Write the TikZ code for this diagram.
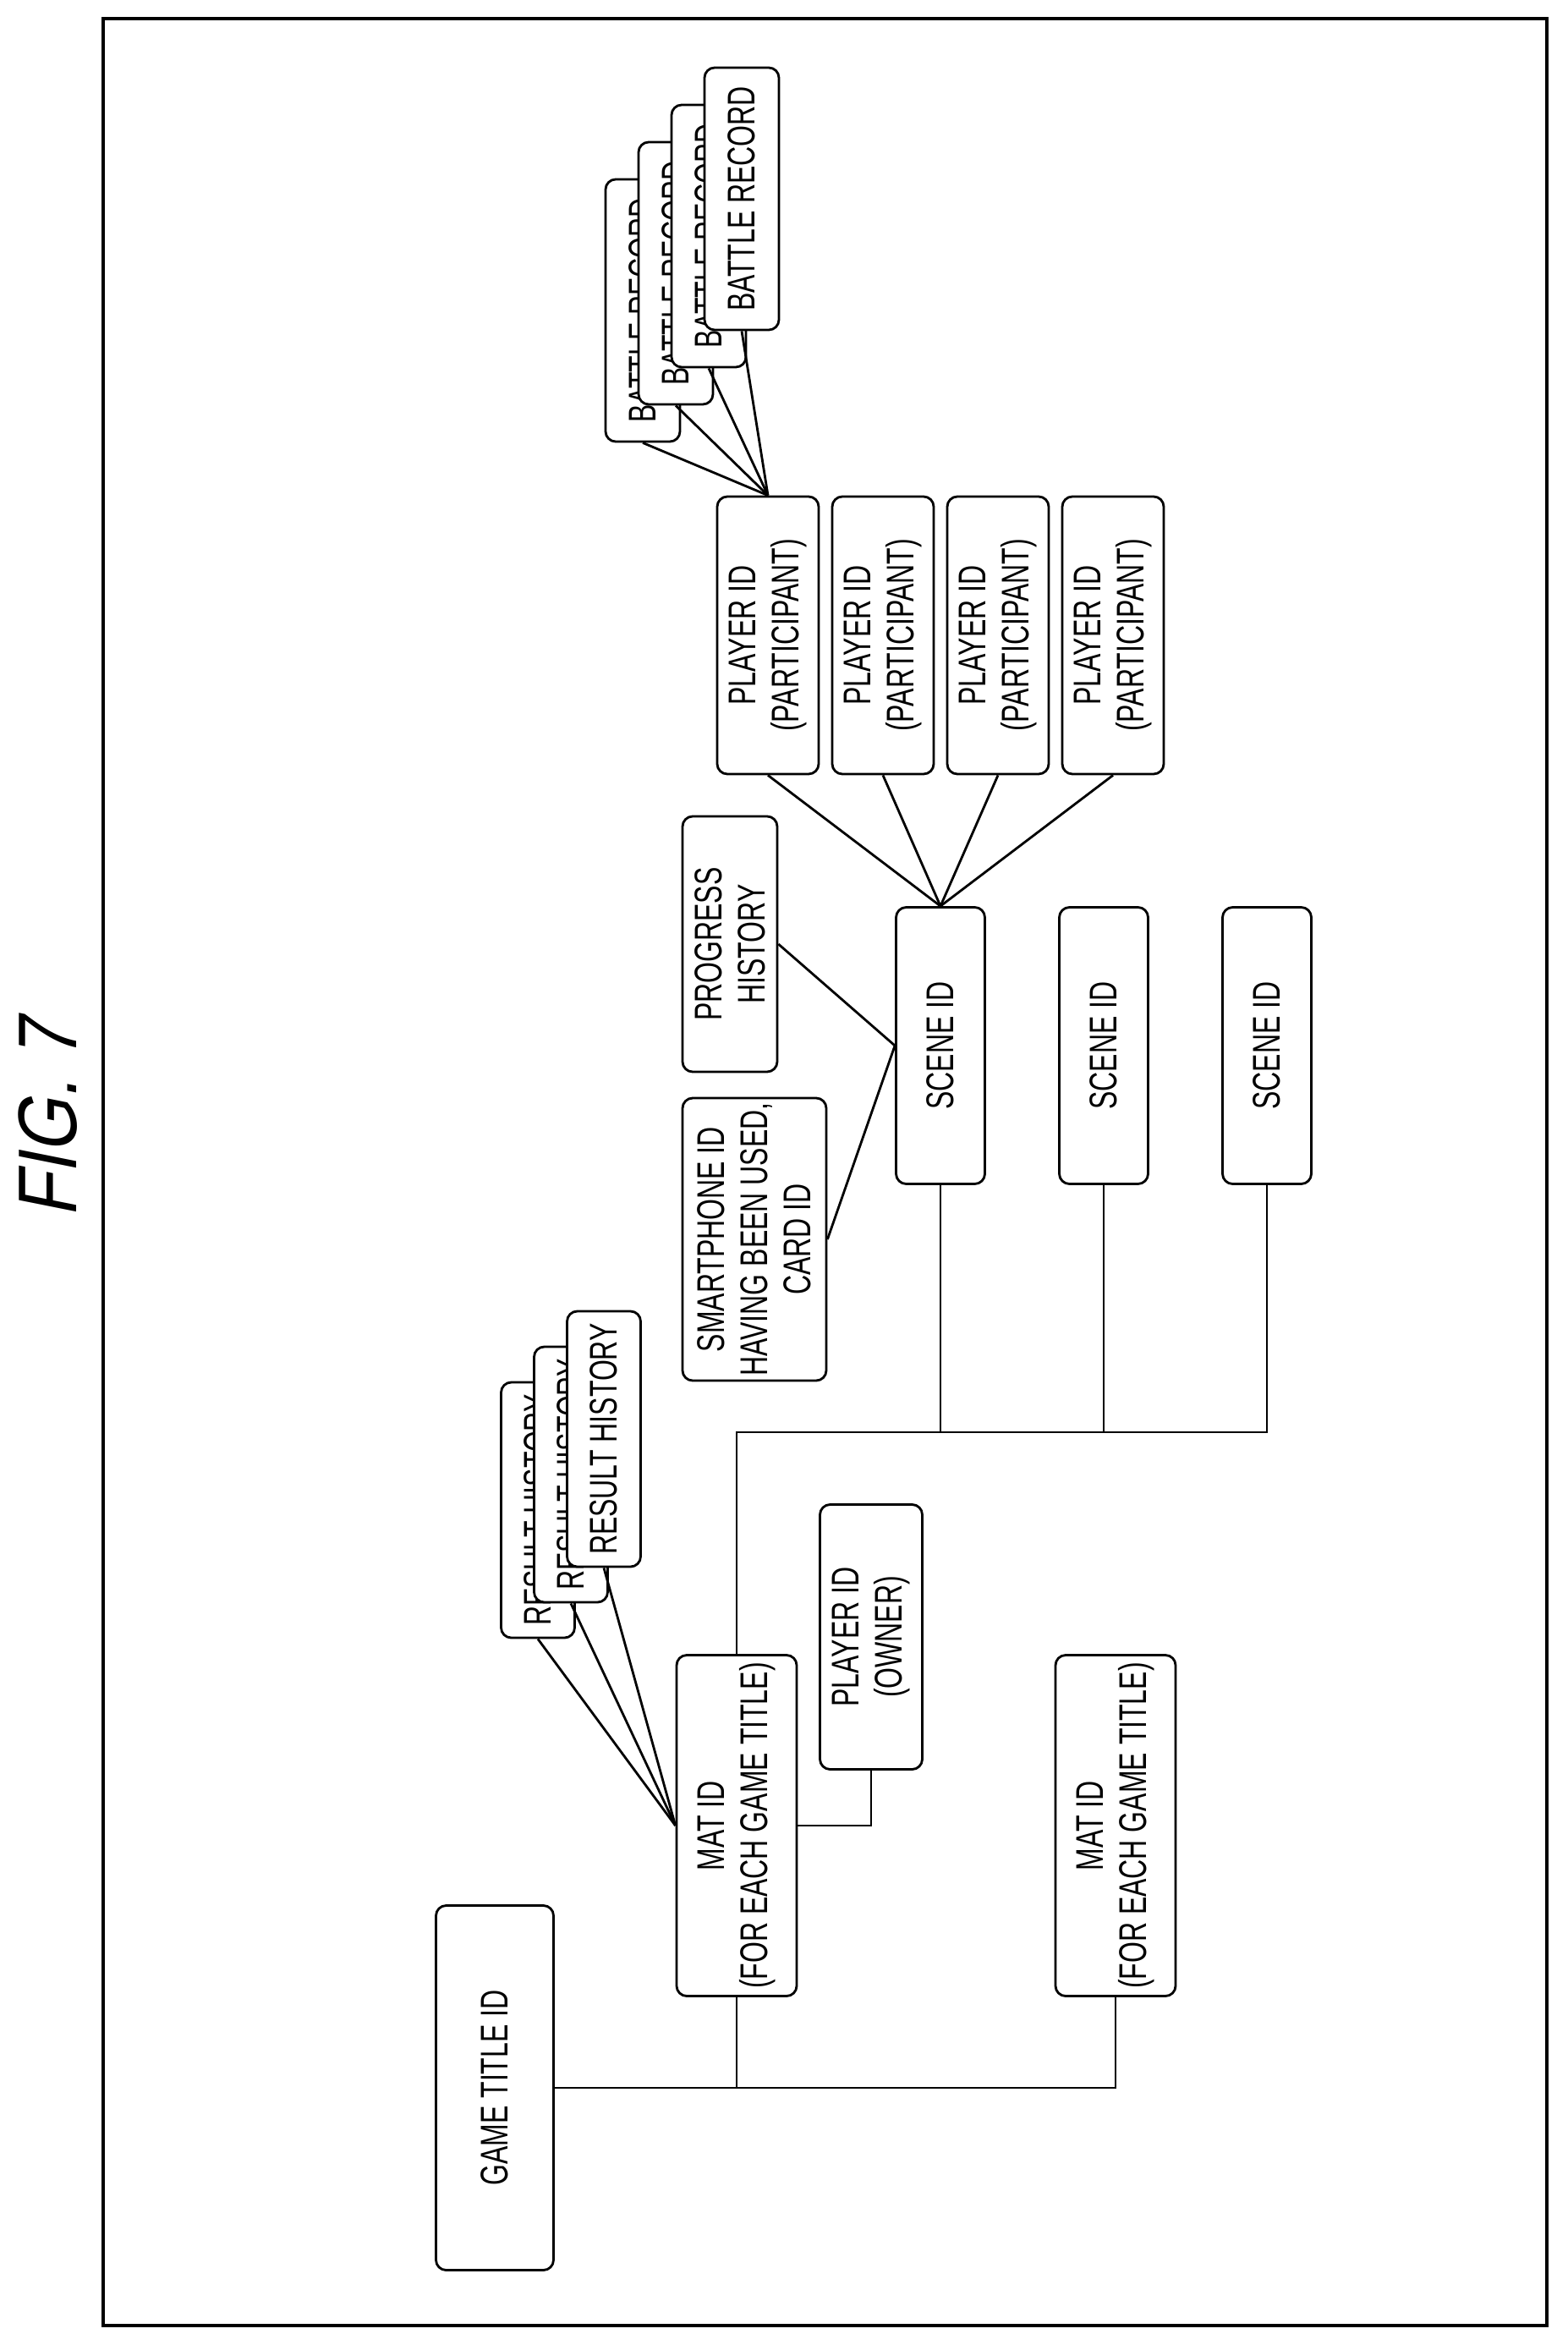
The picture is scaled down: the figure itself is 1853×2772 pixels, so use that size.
\documentclass[tikz,border=0pt]{standalone}
\usepackage{fontspec}
\newfontfamily\narrowfont[FakeStretch=0.7]{Liberation Sans}
\newfontfamily\figfont[FakeSlant=0.2,FakeStretch=0.85]{Liberation Sans}
\usetikzlibrary{calc}

\tikzset{
  idbox/.style={draw, line width=0.8pt, rounded corners=1.2mm, rotate=90, fill=white,
    align=center, inner sep=0pt, font=\narrowfont\fontsize{13}{14.5}\selectfont},
  link/.style={line width=0.8pt}
}

\begin{document}
\begin{tikzpicture}[x=0.1mm, y=-0.1mm]
  \useasboundingbox (0,0) rectangle (1853,2772);
  \draw[line width=0.9pt] (122,22) rectangle (1829,2749);
  \node[rotate=90, font=\figfont\fontsize{28}{30}\selectfont] (fig) at (57,1323) {FIG. 7};

  % game title and mats
  \node[idbox, minimum width=43.1mm, minimum height=13.9mm] (game) at (585,2468) {GAME TITLE ID};
  \node[idbox, minimum width=40.3mm, minimum height=14.2mm] (mat1) at (871,2158) {MAT ID\\(FOR EACH GAME TITLE)};
  \node[idbox, minimum width=40.3mm, minimum height=14.2mm] (mat2) at (1319,2158) {MAT ID\\(FOR EACH GAME TITLE)};
  \node[idbox, minimum width=31.3mm, minimum height=12.1mm] (owner) at (1030,1935) {PLAYER ID\\(OWNER)};

  % result history stack
  \foreach \i/\x/\y in {3/636/1785, 2/675/1743, 1/714/1701}{
    \node[idbox, minimum width=30.2mm, minimum height=8.7mm] (res\i) at (\x,\y) {RESULT HISTORY};}

  % scenes
  \foreach \i/\x in {1/1112, 2/1305, 3/1498}{
    \node[idbox, minimum width=32.7mm, minimum height=10.5mm] (scene\i) at (\x,1236) {SCENE ID};}
  \node[idbox, minimum width=30.2mm, minimum height=11.2mm] (progress) at (863,1116) {PROGRESS\\HISTORY};
  \node[idbox, minimum width=33.4mm, minimum height=17mm] (phone) at (892,1465) {SMARTPHONE ID\\HAVING BEEN USED,\\CARD ID};

  % players
  \foreach \i/\x in {1/908, 2/1044, 3/1180, 4/1316}{
    \node[idbox, minimum width=32.8mm, minimum height=12mm] (player\i) at (\x,751) {PLAYER ID\\(PARTICIPANT)};}

  % battle record stack
  \foreach \i/\x/\y in {4/760/367, 3/799/323, 2/838/279, 1/877/235}{
    \node[idbox, minimum width=31mm, minimum height=8.8mm] (battle\i) at (\x,\y) {BATTLE RECORD};}

  % connectors
  \coordinate (bus) at (871,1693);
  \draw[link] (game.south) -| (mat2.west);
  \draw[link] (mat1.west) -- (mat1.west |- game.south);
  \draw[link] (mat1.south) -| (owner.west);
  \draw[link] (mat1.east) -- (bus) -| (scene3.west);
  \draw[link] (scene1.west) -- (scene1.west |- bus);
  \draw[link] (scene2.west) -- (scene2.west |- bus);
  \foreach \i in {1,2,3}{
    \draw[link] (res\i.west) -- (mat1.north);}
  \foreach \i in {1,2,3,4}{
    \draw[link] (player\i.west) -- (scene1.east);
    \draw[link] (battle\i.west) -- (player1.east);}
  \draw[link] (progress.south) -- (scene1.north);
  \draw[link] (phone.south) -- (scene1.north);
\end{tikzpicture}
\end{document}
